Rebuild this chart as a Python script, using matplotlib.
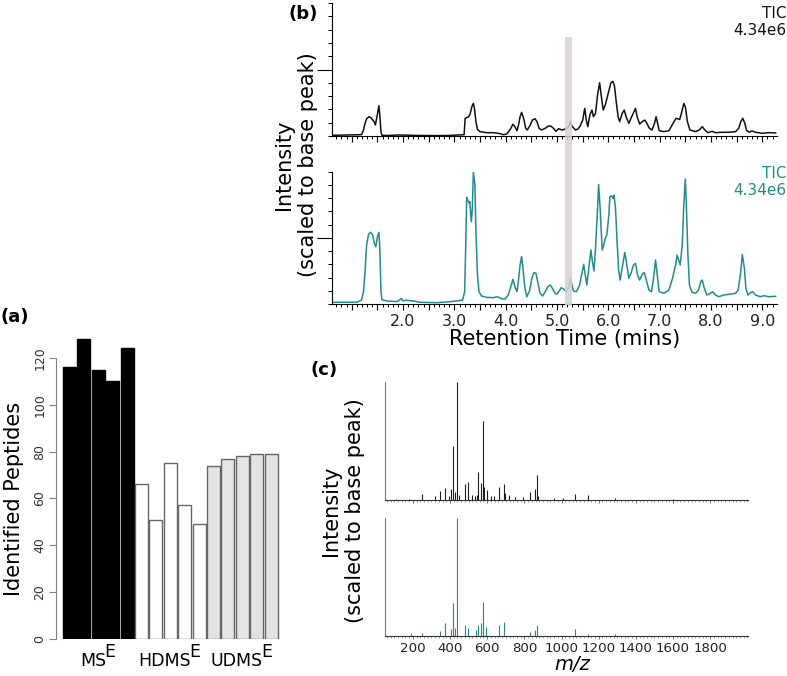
import matplotlib
matplotlib.use('Agg')
import matplotlib.pyplot as plt
import matplotlib.transforms as mtransforms
from matplotlib.patches import Rectangle
from matplotlib.ticker import MultipleLocator, FixedLocator, FuncFormatter, NullFormatter

plt.rcParams['font.family'] = 'DejaVu Sans'

W, H = 787, 676

# (a) identified peptides per run
group_names = ['MS', 'HDMS', 'UDMS']
mse = [116, 128, 115, 110, 124]
hdmse = [66, 51, 75, 57, 49]
udmse = [74, 77, 78, 79, 79]

# (b) total ion chromatograms (scaled to base peak)
rt_top = [0.61, 1.19, 1.23, 1.26, 1.29, 1.34, 1.38, 1.44, 1.46, 1.49,
          1.53, 1.55, 1.57, 1.59, 1.70, 1.94, 1.97, 2.00, 2.30, 2.60,
          2.90, 3.11, 3.19, 3.21, 3.24, 3.28, 3.31, 3.34, 3.37, 3.39,
          3.42, 3.45, 3.50, 3.63, 3.76, 3.86, 3.96, 4.02, 4.09, 4.14,
          4.18, 4.22, 4.25, 4.28, 4.31, 4.35, 4.39, 4.42, 4.48, 4.52,
          4.57, 4.61, 4.65, 4.70, 4.77, 4.83, 4.88, 4.93, 4.98, 5.03,
          5.10, 5.16, 5.23, 5.26, 5.29, 5.36, 5.41, 5.45, 5.50, 5.54,
          5.57, 5.60, 5.64, 5.68, 5.71, 5.75, 5.79, 5.83, 5.86, 5.90,
          5.94, 5.99, 6.03, 6.05, 6.09, 6.12, 6.15, 6.19, 6.22, 6.27,
          6.31, 6.35, 6.40, 6.44, 6.53, 6.56, 6.61, 6.66, 6.71, 6.75,
          6.80, 6.85, 6.90, 6.93, 6.96, 6.99, 7.08, 7.18, 7.26, 7.32,
          7.39, 7.42, 7.47, 7.50, 7.54, 7.59, 7.70, 7.77, 7.83, 7.88,
          7.94, 8.02, 8.09, 8.22, 8.35, 8.48, 8.54, 8.58, 8.62, 8.66,
          8.69, 8.74, 8.80, 8.87, 9.00, 9.13, 9.26]
tic_top = [0.005, 0.010, 0.045, 0.095, 0.130, 0.145, 0.135, 0.105, 0.083, 0.140,
           0.228, 0.145, 0.030, 0.005, 0.004, 0.008, 0.006, 0.007, 0.004, 0.003,
           0.004, 0.008, 0.010, 0.133, 0.138, 0.145, 0.170, 0.220, 0.245, 0.210,
           0.108, 0.050, 0.033, 0.025, 0.025, 0.020, 0.010, 0.015, 0.050, 0.088,
           0.070, 0.040, 0.083, 0.145, 0.178, 0.133, 0.058, 0.045, 0.083, 0.120,
           0.130, 0.108, 0.058, 0.045, 0.058, 0.075, 0.075, 0.058, 0.035, 0.055,
           0.045, 0.053, 0.070, 0.110, 0.075, 0.045, 0.053, 0.075, 0.120, 0.208,
           0.120, 0.070, 0.158, 0.195, 0.145, 0.170, 0.308, 0.400, 0.308, 0.195,
           0.233, 0.308, 0.370, 0.400, 0.410, 0.375, 0.270, 0.145, 0.108, 0.170,
           0.195, 0.140, 0.095, 0.133, 0.208, 0.145, 0.090, 0.108, 0.120, 0.095,
           0.058, 0.045, 0.095, 0.145, 0.095, 0.040, 0.033, 0.040, 0.095, 0.133,
           0.125, 0.165, 0.245, 0.220, 0.108, 0.045, 0.033, 0.045, 0.070, 0.045,
           0.025, 0.035, 0.025, 0.028, 0.028, 0.033, 0.058, 0.108, 0.133, 0.095,
           0.045, 0.028, 0.038, 0.028, 0.020, 0.025, 0.023]

rt_bot = [0.61, 1.10, 1.19, 1.23, 1.26, 1.29, 1.33, 1.37, 1.41, 1.44,
          1.47, 1.50, 1.53, 1.55, 1.57, 1.59, 1.68, 1.88, 1.94, 1.97,
          1.99, 2.07, 2.20, 2.33, 2.66, 2.92, 3.05, 3.16, 3.20, 3.22,
          3.24, 3.26, 3.29, 3.30, 3.33, 3.35, 3.37, 3.40, 3.42, 3.45,
          3.48, 3.53, 3.63, 3.76, 3.84, 3.92, 3.99, 4.05, 4.11, 4.14,
          4.18, 4.22, 4.25, 4.28, 4.31, 4.33, 4.37, 4.41, 4.46, 4.51,
          4.55, 4.59, 4.63, 4.67, 4.72, 4.77, 4.82, 4.87, 4.91, 4.96,
          5.00, 5.04, 5.08, 5.13, 5.18, 5.23, 5.26, 5.29, 5.32, 5.38,
          5.44, 5.49, 5.52, 5.55, 5.58, 5.62, 5.66, 5.69, 5.72, 5.75,
          5.79, 5.81, 5.84, 5.88, 5.91, 5.94, 5.97, 6.01, 6.03, 6.06,
          6.09, 6.11, 6.14, 6.17, 6.20, 6.23, 6.28, 6.32, 6.35, 6.40,
          6.44, 6.49, 6.53, 6.57, 6.61, 6.66, 6.70, 6.73, 6.79, 6.84,
          6.88, 6.92, 6.96, 6.99, 7.08, 7.18, 7.25, 7.31, 7.34, 7.37,
          7.40, 7.44, 7.47, 7.50, 7.52, 7.55, 7.58, 7.63, 7.70, 7.76,
          7.80, 7.83, 7.87, 7.92, 7.99, 8.03, 8.09, 8.15, 8.25, 8.35,
          8.48, 8.53, 8.58, 8.61, 8.65, 8.68, 8.72, 8.77, 8.81, 8.87,
          8.96, 9.03, 9.13, 9.26]
tic_bot = [0.013, 0.013, 0.030, 0.093, 0.244, 0.446, 0.529, 0.542, 0.521, 0.458,
           0.433, 0.509, 0.542, 0.395, 0.093, 0.033, 0.023, 0.018, 0.033, 0.043,
           0.025, 0.028, 0.023, 0.013, 0.010, 0.018, 0.023, 0.030, 0.093, 0.420,
           0.806, 0.786, 0.761, 0.773, 0.622, 0.723, 1.000, 0.900, 0.547, 0.219,
           0.093, 0.060, 0.050, 0.048, 0.055, 0.040, 0.038, 0.068, 0.144, 0.186,
           0.131, 0.093, 0.181, 0.295, 0.358, 0.295, 0.131, 0.055, 0.093, 0.194,
           0.237, 0.232, 0.156, 0.081, 0.060, 0.093, 0.131, 0.144, 0.118, 0.081,
           0.075, 0.098, 0.123, 0.113, 0.093, 0.131, 0.194, 0.144, 0.098, 0.093,
           0.144, 0.244, 0.300, 0.219, 0.144, 0.270, 0.408, 0.320, 0.249, 0.421,
           0.723, 0.904, 0.723, 0.408, 0.446, 0.496, 0.521, 0.673, 0.811, 0.819,
           0.798, 0.824, 0.723, 0.471, 0.257, 0.181, 0.295, 0.390, 0.320, 0.194,
           0.232, 0.295, 0.307, 0.219, 0.181, 0.224, 0.239, 0.194, 0.106, 0.093,
           0.194, 0.332, 0.194, 0.093, 0.081, 0.106, 0.194, 0.295, 0.370, 0.332,
           0.295, 0.446, 0.748, 0.945, 0.748, 0.370, 0.144, 0.088, 0.081, 0.106,
           0.169, 0.181, 0.118, 0.068, 0.081, 0.093, 0.068, 0.055, 0.068, 0.073,
           0.081, 0.106, 0.244, 0.375, 0.270, 0.118, 0.068, 0.086, 0.093, 0.068,
           0.055, 0.063, 0.055, 0.058]
band_rt = [5.16, 5.29]
tic_label = 'TIC\n4.34e6'

# (c) mass spectra at the highlighted retention time
mz_top = [110, 180, 248, 320, 347, 375, 397, 404, 417, 426,
          437, 447, 481, 499, 517, 535, 544, 553, 568, 577,
          585, 598, 621, 639, 663, 688, 697, 717, 751, 792,
          831, 858, 867, 876, 957, 1007, 1073, 1145, 1289, 1600]
int_top = [0.010, 0.010, 0.050, 0.030, 0.080, 0.100, 0.035, 0.097, 0.457, 0.070,
           1.000, 0.040, 0.137, 0.149, 0.040, 0.035, 0.040, 0.234, 0.143, 0.666,
           0.114, 0.086, 0.034, 0.030, 0.114, 0.134, 0.057, 0.040, 0.023, 0.023,
           0.070, 0.090, 0.209, 0.030, 0.017, 0.014, 0.050, 0.040, 0.020, 0.010]
mz_bot = [189, 248, 347, 375, 404, 417, 426, 437, 481, 499,
          539, 553, 568, 577, 595, 663, 688, 831, 858, 867,
          1073, 1145, 1289]
int_bot = [0.028, 0.028, 0.042, 0.113, 0.057, 0.283, 0.065, 1.000, 0.093, 0.071,
           0.050, 0.093, 0.113, 0.292, 0.079, 0.093, 0.122, 0.037, 0.050, 0.093,
           0.060, 0.020, 0.015]
mz_ticks = [200, 400, 600, 800, 1000, 1200, 1400, 1600, 1800]

teal = '#248b8b'
label_fs = 15


def box(left, top, right, bottom):
    # pixel box (from top-left) -> figure fraction rect
    return [left / W, 1 - bottom / H, (right - left) / W, (bottom - top) / H]


fig = plt.figure(figsize=(W / 100, H / 100), dpi=100)
renderer = fig.canvas.get_renderer()

# ---------------- (a) ----------------
ax_a = fig.add_axes(box(56, 334.4, 280, 639))
heights = mse + hdmse + udmse
fills = ['black'] * 5 + ['white'] * 5 + ['#e4e4e4'] * 5
edges = ['black'] * 5 + ['#666666'] * 10
ax_a.bar(range(len(heights)), heights, width=0.9, color=fills, edgecolor=edges, linewidth=1)
ax_a.set_xlim(-0.94, 14.62)
ax_a.set_ylim(0, 130)
for s in ['top', 'right', 'bottom']:
    ax_a.spines[s].set_visible(False)
ax_a.spines['left'].set_bounds(0, 120)
ax_a.spines['left'].set_color('#808080')
ax_a.set_yticks(range(0, 121, 20))
ax_a.tick_params(axis='y', length=5, color='#808080', labelsize=9, labelcolor='#333333',
                 labelrotation=90, pad=2)
for lab in ax_a.get_yticklabels():
    lab.set_va('center')
ax_a.set_xticks([])
ax_a.set_ylabel('Identified Peptides', fontsize=label_fs)
ax_a.yaxis.set_label_coords(-0.142, 0.46)

# group names with a full-size raised "E"
for k, name in enumerate(group_names):
    tb = fig.text(0, 1 - 665.7 / H, name, fontsize=12.5, va='baseline')
    te = fig.text(0, 1 - 657.0 / H, 'E', fontsize=12.5, va='baseline')
    wb = tb.get_window_extent(renderer).width
    we = te.get_window_extent(renderer).width
    xc = ax_a.transData.transform((5 * k + 2, 0))[0]
    left = xc - (wb + we) / 2
    tb.set_x(left / W)
    te.set_x((left + wb - 1.5) / W)

fig.text(0.5 / W, 1 - 317 / H, '(a)', fontsize=13, fontweight='bold', ha='left', va='center')

# ---------------- (b) ----------------
ax_t = fig.add_axes(box(331.7, 3, 776.7, 136))
ax_b = fig.add_axes(box(331.7, 171.7, 776.7, 304))
ax_t.plot(rt_top, tic_top, color='#111111', lw=1.1)
ax_b.plot(rt_bot, tic_bot, color=teal, lw=1.1)


def rt_fmt(v, pos):
    if abs(v - round(v)) < 1e-6 and v >= 2:
        return f'{v:.1f}'
    return ''


for ax in (ax_t, ax_b):
    ax.set_xlim(0.61, 9.28)
    ax.set_ylim(0, 1)
    ax.spines['top'].set_visible(False)
    ax.spines['right'].set_visible(False)
    ax.xaxis.set_major_locator(MultipleLocator(0.5))
    ax.xaxis.set_minor_locator(MultipleLocator(0.1))
    ax.yaxis.set_major_locator(FixedLocator([0.5]))
    ax.yaxis.set_minor_locator(MultipleLocator(0.1))
    ax.yaxis.set_major_formatter(NullFormatter())
    ax.tick_params(axis='x', which='major', length=4, width=0.8)
    ax.tick_params(axis='x', which='minor', length=2, width=0.7)
    ax.tick_params(axis='y', which='major', length=11, width=0.8)
    ax.tick_params(axis='y', which='minor', length=3, width=0.7)
ax_t.xaxis.set_major_formatter(NullFormatter())
ax_b.xaxis.set_major_formatter(FuncFormatter(rt_fmt))
ax_b.tick_params(axis='x', which='major', labelsize=11.5, labelcolor='#222222', pad=3)

fig.text(565 / W, 1 - 339 / H, 'Retention Time (mins)', fontsize=label_fs, ha='center', va='center')
fig.text(296 / W, 1 - 165 / H, 'Intensity\n(scaled to base peak)', fontsize=label_fs,
         rotation=90, ha='center', va='center', multialignment='center', linespacing=1.2)
fig.text(786 / W, 1 - 6 / H, tic_label, fontsize=11, ha='right', va='top',
         multialignment='right', linespacing=1.15, color='#111111')
fig.text(786 / W, 1 - 166 / H, tic_label, fontsize=11, ha='right', va='top',
         multialignment='right', linespacing=1.15, color=teal)
fig.text(288 / W, 1 - 14 / H, '(b)', fontsize=13, fontweight='bold', ha='left', va='center')

band_tr = mtransforms.blended_transform_factory(ax_t.transData, fig.transFigure)
fig.add_artist(Rectangle((band_rt[0], 1 - 305 / H), band_rt[1] - band_rt[0], (305 - 37) / H,
                         transform=band_tr, facecolor='#d9d1d4', edgecolor='none', alpha=0.85))

# ---------------- (c) ----------------
ax_s1 = fig.add_axes(box(385, 381.7, 748.3, 500))
ax_s2 = fig.add_axes(box(385, 518.3, 748.3, 636))
ax_s1.vlines(mz_top, 0, int_top, color='#1e1e1e', lw=0.8)
ax_s2.vlines(mz_bot, 0, int_bot, color=teal, lw=0.8)
for ax in (ax_s1, ax_s2):
    ax.set_xlim(50, 2005)
    ax.set_ylim(0, 1)
    ax.spines['top'].set_visible(False)
    ax.spines['right'].set_visible(False)
    ax.spines['left'].set_color('#7a7a7a')
    ax.spines['left'].set_linewidth(0.8)
    ax.spines['bottom'].set_color('#333333')
    ax.spines['bottom'].set_linewidth(0.8)
    ax.set_yticks([])
    ax.xaxis.set_major_locator(FixedLocator(mz_ticks))
    ax.xaxis.set_minor_locator(MultipleLocator(20))
    ax.tick_params(axis='x', which='major', length=2.5, width=0.6, color='#555555')
    ax.tick_params(axis='x', which='minor', length=1.5, width=0.5, color='#777777')
ax_s1.xaxis.set_major_formatter(NullFormatter())
ax_s2.tick_params(axis='x', which='major', labelsize=9.6, labelcolor='#222222', pad=2)

fig.text(572 / W, 1 - 664 / H, 'm/z', fontsize=14, style='italic', ha='center', va='center')
fig.text(343 / W, 1 - 511 / H, 'Intensity\n(scaled to base peak)', fontsize=label_fs,
         rotation=90, ha='center', va='center', multialignment='center', linespacing=1.2)
fig.text(311 / W, 1 - 370 / H, '(c)', fontsize=13, fontweight='bold', ha='left', va='center')

fig.savefig('out.png', dpi=100)
